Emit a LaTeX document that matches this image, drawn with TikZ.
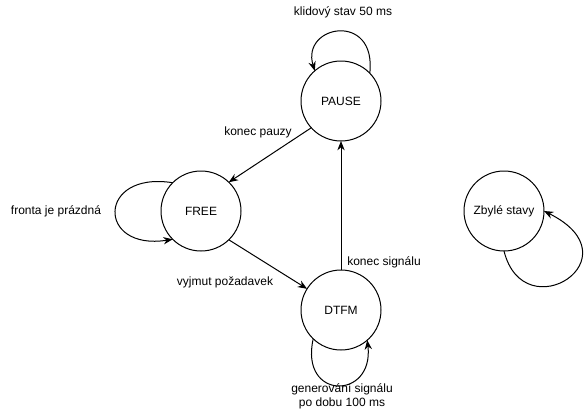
\documentclass[tikz,border=0pt]{standalone}
\usepackage{fontspec}
\setmainfont{Liberation Sans}
\usetikzlibrary{arrows.meta}

\begin{document}
\begin{tikzpicture}[x=0.75pt,y=-0.75pt,
    state/.style={draw,circle,line width=0.75pt,minimum size=60pt,inner sep=0pt,outer sep=0pt,font=\fontsize{9pt}{11pt}\selectfont},
    lbl/.style={font=\fontsize{9pt}{10.5pt}\selectfont,inner sep=0pt},
    trans/.style={-{Stealth[length=7pt,width=5.5pt]},line width=0.75pt}]
  \useasboundingbox (0,0) rectangle (584,415);
  \node[state] (pause) at (341,101) {PAUSE};
  \node[state] (free) at (201,211) {FREE};
  \node[state] (dtfm) at (341,310) {DTFM};
  \node[state] (rest) at (504,211) {Zbylé stavy};

  \draw[trans] (pause.44) .. controls +(7,-62) and +(-14,-46) .. (pause.131);
  \draw[trans] (pause.222) -- (free.46);
  \draw[trans] (free.135) .. controls +(-76,-12) and +(-76,12) .. (free.225);
  \draw[trans] (free.314) -- (dtfm.148);
  \draw[trans] (dtfm.north) -- (pause.south);
  \draw[trans] (dtfm.226) .. controls +(-14,62) and +(7,60) .. (dtfm.311);
  \draw[trans] (rest.south) .. controls +(20,80) and +(94,47) .. (rest.east);

  \node[lbl] (lpause) at (343,12) {klidový stav 50 ms};
  \node[lbl] (lkonec) at (258,132) {konec pauzy};
  \node[lbl] (lfronta) at (56,211) {fronta je prázdná};
  \node[lbl] (lvyjmut) at (225,282) {vyjmut požadavek};
  \node[lbl] (lsignal) at (384,262) {konec signálu};
  \node[lbl,align=center] (lgen) at (342,396) {generování signálu\\po dobu 100 ms};
\end{tikzpicture}
\end{document}
